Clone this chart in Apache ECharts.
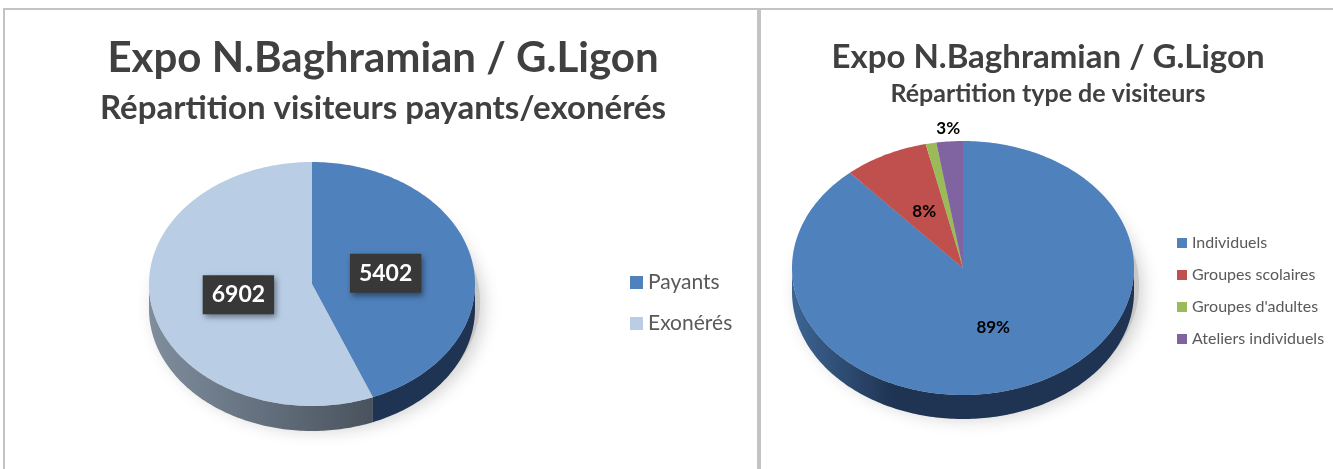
<!DOCTYPE html>
<html>
<head>
<meta charset="utf-8">
<script src="https://cdn.jsdelivr.net/npm/echarts@6/dist/echarts.min.js"></script>
<style>
  html, body { margin: 0; padding: 0; background: #fff; }
  #chart { width: 1333px; height: 469px; }
</style>
</head>
<body>
<div id="chart"></div>
<script>
// data
var mainTitle = 'Expo N.Baghramian / G.Ligon';
var leftSubtitle = 'Répartition visiteurs payants/exonérés';
var rightSubtitle = 'Répartition type de visiteurs';

var visitorCats = ['Payants', 'Exonérés'];
var visitorValues = [5402, 6902];

var typeCats = ['Individuels', 'Groupes scolaires', "Groupes d'adultes", 'Ateliers individuels'];
var typeValues = [88.5, 8.0, 1.0, 2.5];

var FONT = 'Lato, "Open Sans", sans-serif';

// layout of the two tilted pies
var leftPie = { cx: 312, cy: 284, rx: 163, ry: 122, depth: 25 };
var rightPie = { cx: 963, cy: 268, rx: 171, ry: 127, depth: 24 };

function pt(g, t, dy) {
	var a = t * 2 * Math.PI;
	return [g.cx + g.rx * Math.sin(a), g.cy - g.ry * Math.cos(a) + (dy || 0)];
}

function arc(g, t0, t1, dy) {
	var pts = [];
	var n = Math.max(2, Math.ceil((t1 - t0) * 360));
	for (var k = 0; k <= n; k++) {
		pts.push(pt(g, t0 + (t1 - t0) * k / n, dy));
	}
	return pts;
}

function hGrad(g, stops) {
	return new echarts.graphic.LinearGradient(g.cx - g.rx, 0, g.cx + g.rx, 0, stops, true);
}

// one custom series per slice, so the legend works per category
function pieSeries(g, cats, values, colors, walls, labelFn) {
	var total = values.reduce(function (s, v) { return s + v; }, 0);
	var cum = 0;
	return cats.map(function (name, i) {
		var t0 = cum / total;
		cum += values[i];
		var t1 = cum / total;
		return {
			type: 'custom',
			name: name,
			coordinateSystem: 'none',
			itemStyle: { color: colors[i] },
			silent: true,
			data: [[t0, t1, values[i], i]],
			renderItem: function (params, api) {
				var a = api.value(0), b = api.value(1);
				var children = [];
				if (i === 0) {
					// soft shadow under the pie
					children.push({
						type: 'ellipse',
						shape: { cx: g.cx + 4, cy: g.cy + g.depth * 0.6 + 3, rx: g.rx + 1, ry: g.ry + 1 },
						style: { fill: 'rgba(190,190,190,0.7)', shadowBlur: 18, shadowColor: 'rgba(0,0,0,0.28)', shadowOffsetX: 3, shadowOffsetY: 5 },
						z2: 0
					});
				}
				var wa = Math.max(a, 0.25), wb = Math.min(b, 0.75);
				if (wa < wb) {
					var top = arc(g, wa, wb, 0);
					var bottom = arc(g, wa, wb, g.depth).reverse();
					children.push({
						type: 'polygon',
						shape: { points: top.concat(bottom) },
						style: { fill: walls[i] },
						z2: 2
					});
				}
				var pts = [[g.cx, g.cy]].concat(arc(g, a, b, 0));
				children.push({
					type: 'polygon',
					shape: { points: pts },
					style: { fill: colors[i] },
					z2: 5
				});
				var lab = labelFn(values[i], (b - a), (a + b) / 2);
				if (lab) {
					var p = pt({ cx: g.cx, cy: g.cy, rx: g.rx * lab.f, ry: g.ry * lab.f }, (a + b) / 2, 0);
					children.push({
						type: 'text',
						style: Object.assign({
							text: lab.text,
							x: p[0],
							y: p[1],
							align: 'center',
							verticalAlign: 'middle',
							fontFamily: FONT
						}, lab.style),
						z2: 10
					});
				}
				return { type: 'group', children: children };
			}
		};
	});
}

var leftColors = ['#4f81bd', '#b9cde5'];
var leftWalls = ['#1f3352', hGrad(leftPie, [{ offset: 0, color: '#7f8d9d' }, { offset: 0.7, color: '#48525d' }])];

var rightColors = ['#4f81bd', '#c0504d', '#9bbb59', '#8064a2'];
var rightWalls = [
	hGrad(rightPie, [{ offset: 0, color: '#3d6594' }, { offset: 0.3, color: '#1f3352' }, { offset: 1, color: '#1f3352' }]),
	'#6b2b2a', '#55692f', '#46375b'
];

var series = pieSeries(leftPie, visitorCats, visitorValues, leftColors, leftWalls, function (v) {
	return {
		text: String(v), f: 0.46,
		style: {
			fill: '#fff', fontSize: 23, fontWeight: 'bold',
			backgroundColor: '#383838', padding: [9, 9, 7, 9],
			shadowColor: 'rgba(0,0,0,0.45)', shadowBlur: 6, shadowOffsetX: 2, shadowOffsetY: 3
		}
	};
}).concat(pieSeries(rightPie, typeCats, typeValues, rightColors, rightWalls, function (v, frac) {
	var pct = Math.round(v);
	if (pct < 2) return null;
	return {
		text: pct + '%', f: frac < 0.05 ? 1.1 : 0.5,
		style: { fill: '#000', fontSize: 17, fontWeight: 'bold' }
	};
}));

var chart = echarts.init(document.getElementById('chart'));
chart.setOption({
	animation: false,
	title: [
		{ text: mainTitle, left: 383, top: 36, textAlign: 'center', padding: 0,
			textStyle: { fontFamily: FONT, fontSize: 42, fontWeight: 'bold', color: '#404040', lineHeight: 44 } },
		{ text: leftSubtitle, left: 383, top: 91, textAlign: 'center', padding: 0,
			textStyle: { fontFamily: FONT, fontSize: 33, fontWeight: 'bold', color: '#404040', lineHeight: 34 } },
		{ text: mainTitle, left: 1048, top: 40, textAlign: 'center', padding: 0,
			textStyle: { fontFamily: FONT, fontSize: 33, fontWeight: 'bold', color: '#404040', lineHeight: 34 } },
		{ text: rightSubtitle, left: 1048, top: 81, textAlign: 'center', padding: 0,
			textStyle: { fontFamily: FONT, fontSize: 25, fontWeight: 'bold', color: '#404040', lineHeight: 26 } }
	],
	legend: [
		{ data: visitorCats, orient: 'vertical', left: 625, top: 267, icon: 'rect', selectedMode: false,
			itemWidth: 13, itemHeight: 13, itemGap: 20,
			textStyle: { fontFamily: FONT, fontSize: 21, color: '#595959' } },
		{ data: typeCats, orient: 'vertical', left: 1172, top: 230, icon: 'rect', selectedMode: false,
			itemWidth: 10, itemHeight: 10, itemGap: 16,
			textStyle: { fontFamily: FONT, fontSize: 16, color: '#595959' } }
	],
	graphic: [
		{ type: 'rect', shape: { x: 4, y: 9, width: 754, height: 470 }, style: { fill: null, stroke: '#c3c3c3', lineWidth: 2 }, silent: true },
		{ type: 'rect', shape: { x: 760, y: 9, width: 600, height: 470 }, style: { fill: null, stroke: '#c3c3c3', lineWidth: 2 }, silent: true }
	],
	series: series
});
</script>
</body>
</html>
